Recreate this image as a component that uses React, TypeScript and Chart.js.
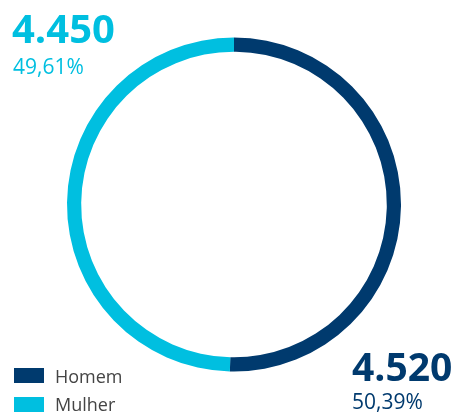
import React, { useEffect, useRef } from "react";
import { Chart, registerables } from "chart.js";

Chart.register(...registerables);

const categories = ["Homem", "Mulher"];
const values = [4520, 4450];
const valueLabels = ["4.520", "4.450"];
const percentLabels = ["50,39%", "49,61%"];
const colors = ["#003A6E", "#00BFE0"];

const FONT = "'Open Sans', 'Noto Sans', sans-serif";

export default function App() {
  const ref = useRef<HTMLCanvasElement | null>(null);

  useEffect(() => {
    if (!ref.current) return;
    const chart = new Chart(ref.current, {
      type: "doughnut",
      data: {
        labels: categories,
        datasets: [
          {
            data: values,
            backgroundColor: colors,
            borderWidth: 0,
          },
        ],
      },
      options: {
        responsive: false,
        animation: false,
        cutout: "91.5%",
        layout: { padding: { top: 37, bottom: 40, left: 67, right: 53 } },
        plugins: {
          legend: { display: false },
          tooltip: { enabled: false },
        },
      },
    });
    return () => chart.destroy();
  }, []);

  const abs = (extra: React.CSSProperties): React.CSSProperties => ({
    position: "absolute",
    lineHeight: 1,
    fontFamily: FONT,
    whiteSpace: "nowrap",
    margin: 0,
    ...extra,
  });

  return (
    <div style={{ position: "absolute", left: 0, top: 0, width: 454, height: 412, background: "#fff", overflow: "hidden" }}>
      <canvas ref={ref} width={454} height={412} style={{ position: "absolute", left: 0, top: 0 }} />
      <div style={abs({ left: 12, top: 8, fontSize: 40, fontWeight: 700, color: colors[1] })}>{valueLabels[1]}</div>
      <div style={abs({ left: 13, top: 56, fontSize: 21, color: colors[1] })}>{percentLabels[1]}</div>
      <div style={abs({ left: 352, top: 346, fontSize: 39, fontWeight: 700, color: colors[0] })}>{valueLabels[0]}</div>
      <div style={abs({ left: 352, top: 391, fontSize: 21, color: colors[0] })}>{percentLabels[0]}</div>
      {categories.map((c, i) => (
        <React.Fragment key={c}>
          <div style={{ position: "absolute", left: 14, top: 368 + i * 29, width: 30, height: 15, background: colors[i] }} />
          <div style={abs({ left: 55, top: 367 + i * 28, fontSize: 18, color: "#444" })}>{c}</div>
        </React.Fragment>
      ))}
    </div>
  );
}
